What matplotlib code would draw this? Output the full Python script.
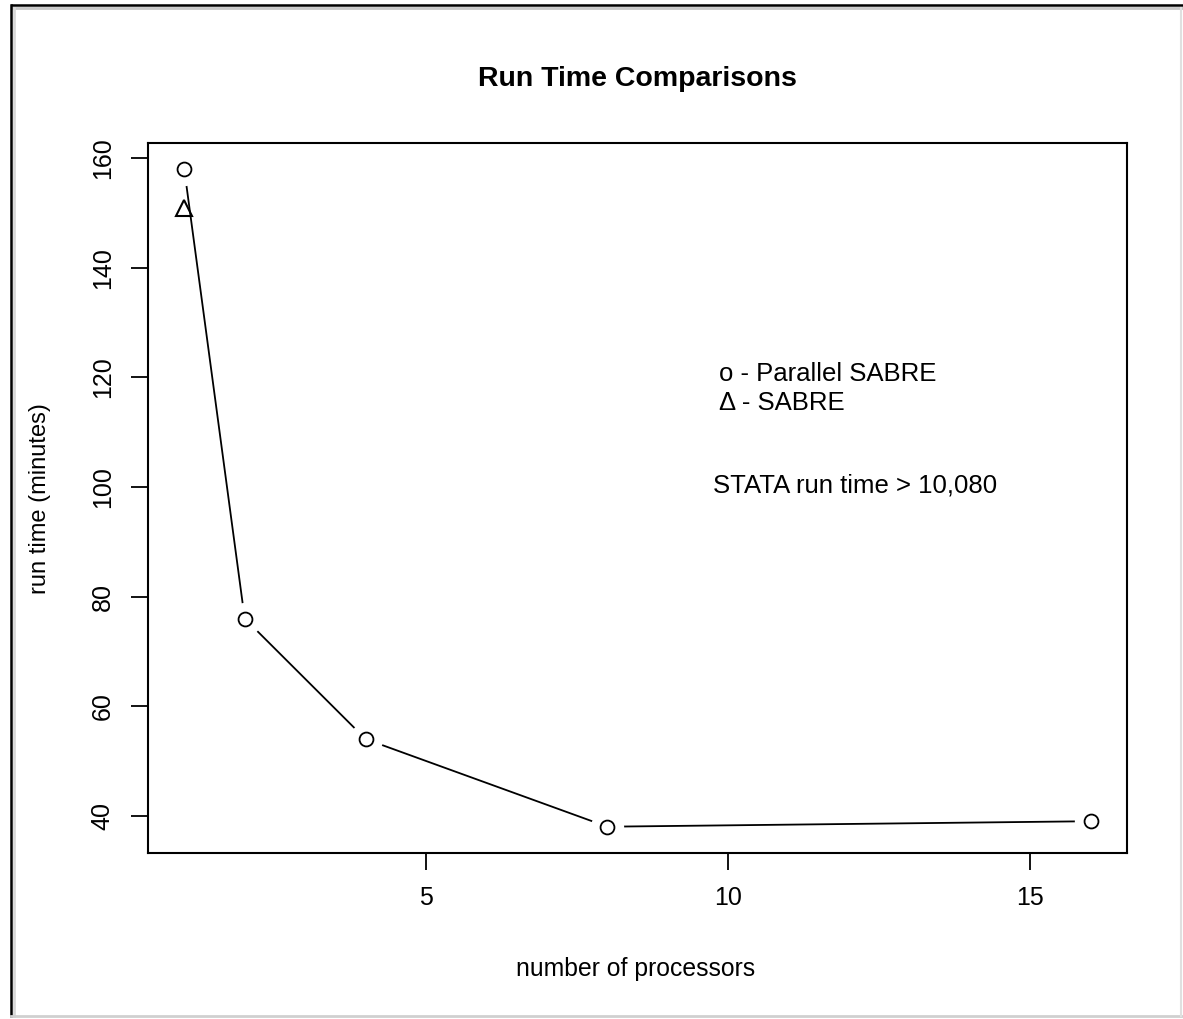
import matplotlib
matplotlib.use("Agg")
import matplotlib.pyplot as plt
from matplotlib.lines import Line2D

# ---- data ----
processors = [1, 2, 4, 8, 16]
parallel_sabre = [158, 76, 54, 38, 39]
sabre_x = [1]
sabre_y = [151]
xticks = [5, 10, 15]
yticks = [40, 60, 80, 100, 120, 140, 160]
title = "Run Time Comparisons"
xlabel = "number of processors"
ylabel = "run time (minutes)"
legend_lines = ["o - Parallel SABRE", "\u0394 - SABRE"]
note = "STATA run time > 10,080"

plt.rcParams['font.family'] = ['Liberation Sans', 'DejaVu Sans']
W, H = 1183, 1019
fig = plt.figure(figsize=(W / 100, H / 100), dpi=100)
fig.patch.set_facecolor('white')

# window-like frame
def fl(x0, y0, x1, y1, **kw):
    fig.add_artist(Line2D([x0 / W, x1 / W], [1 - y0 / H, 1 - y1 / H],
                          transform=fig.transFigure, **kw))
fl(12, 5, W, 5, color='black', lw=1.8)
fl(12, 8, W, 8, color='#c8c8c8', lw=2.0)
fl(11, 5, 11, 1016, color='black', lw=1.8)
fl(14, 8, 14, 1016, color='#d8d8d8', lw=2.0)
fl(11, 1016, W, 1016, color='#d0d0d0', lw=2.0)
fl(1181, 8, 1181, 1016, color='#e0e0e0', lw=1.5)

ax = fig.add_axes([148 / W, 1 - 853 / H, (1127 - 148) / W, (853 - 143) / H])
ax.set_facecolor('white')

# line with gaps around points (R type = "b")
ax.plot(processors, parallel_sabre, color='black', lw=1.3, zorder=2)
ax.plot(processors, parallel_sabre, linestyle='none', marker='o', markersize=24,
        markerfacecolor='white', markeredgecolor='none', zorder=3)
ax.plot(processors, parallel_sabre, linestyle='none', marker='o', markersize=10,
        markerfacecolor='white', markeredgecolor='black', markeredgewidth=1.3, zorder=4)
ax.plot(sabre_x, sabre_y, linestyle='none', marker='^', markersize=11,
        markerfacecolor='none', markeredgecolor='black', markeredgewidth=1.5, zorder=5)

xmin, xmax = min(processors), max(processors)
allY = parallel_sabre + sabre_y
ymin, ymax = min(allY), max(allY)
ax.set_xlim(xmin - 0.04 * (xmax - xmin), xmax + 0.04 * (xmax - xmin))
ax.set_ylim(ymin - 0.04 * (ymax - ymin), ymax + 0.04 * (ymax - ymin))
ax.set_xticks(xticks)
ax.set_yticks(yticks)
ax.tick_params(direction='out', length=12, width=1.3, labelsize=18, pad=12)
for lab in ax.get_yticklabels():
    lab.set_rotation(90)
    lab.set_va('center')
for s in ax.spines.values():
    s.set_linewidth(1.5)

fig.text(637 / W, 1 - 79 / H, title, ha='center', va='center', fontsize=20.5,
         fontweight='bold')
fig.text(636 / W, 1 - 969 / H, xlabel, ha='center', va='center', fontsize=17.8)
fig.text(40 / W, 1 - 499 / H, ylabel, ha='center', va='center', fontsize=17,
         rotation=90)

ax.text(9.85, 120.6, legend_lines[0], ha='left', va='center', fontsize=18.5)
ax.text(9.85, 115.4, legend_lines[1], ha='left', va='center', fontsize=18.5)
ax.text(9.75, 100.3, note, ha='left', va='center', fontsize=18.5)

fig.savefig("out.png", dpi=100, facecolor='white')
